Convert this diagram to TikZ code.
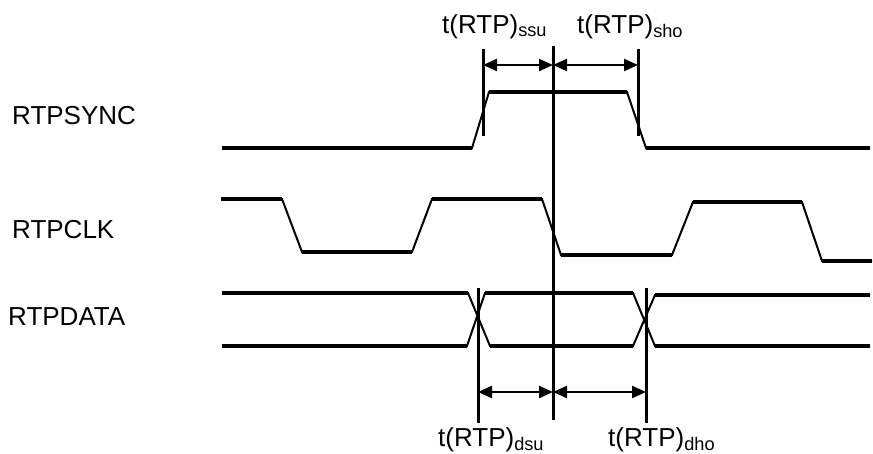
\documentclass[tikz,border=0pt]{standalone}
\usepackage{fontspec}
\setmainfont{Liberation Sans}
\usetikzlibrary{arrows.meta}
\begin{document}
\begin{tikzpicture}[x=1pt, y=-1pt]
        \tikzstyle{level} = [line width=3.4pt];
        \tikzstyle{edge} = [line width=2pt];
        \tikzstyle{marker} = [line width=3pt];
        \tikzstyle{span} = [{Triangle[length=14pt,width=12pt]}-{Triangle[length=14pt,width=12pt]}, line width=2.2pt];
        \tikzstyle{signame} = [inner sep=0pt, anchor=base west, font=\fontsize{26}{30}\selectfont];

        \useasboundingbox (0,0) rectangle (873,453);

        % signal names
        \node(syncname)[signame] at (12,124){RTPSYNC};
        \node(clkname)[signame] at (12,238){RTPCLK};
        \node(dataname)[signame] at (8,325){RTPDATA};

        % RTPSYNC
        \draw [edge] (222,148) -- (472,148) -- (489,92) -- (627,92) -- (646,148) -- (870,148);
        \draw [level] (222,148) -- (472,148) (489,92) -- (627,92) (646,148) -- (870,148);

        % RTPCLK
        \draw [edge] (221,199) -- (282,199) -- (302,252) -- (412,252) -- (432,199) -- (542,199)
            -- (561,255) -- (672,255) -- (693,202) -- (802,202) -- (822,261) -- (872,261);
        \draw [level] (221,199) -- (282,199) (302,252) -- (412,252) (432,199) -- (542,199)
            (561,255) -- (672,255) (693,202) -- (802,202) (822,261) -- (872,261);

        % RTPDATA
        \draw [edge] (222,293) -- (468,293) -- (490,346) -- (633,346) -- (655,295) -- (870,295);
        \draw [edge] (222,346) -- (467,346) -- (485,293) -- (633,293) -- (655,346) -- (870,346);
        \draw [level] (222,293) -- (468,293) (485,293) -- (633,293) (655,295) -- (870,295);
        \draw [level] (222,346) -- (467,346) (490,346) -- (633,346) (655,346) -- (870,346);

        % timing markers
        \draw [marker] (553,46) coordinate(reftop) -- (553,420) coordinate(refbot);
        \draw [marker] (483,49) coordinate(ssutop) -- (483,136);
        \draw [marker] (638,49) coordinate(shotop) -- (638,136);
        \draw [marker] (478,288) -- (478,423) coordinate(dsubot);
        \draw [marker] (646,288) -- (646,423) coordinate(dhobot);

        \coordinate (ssuL) at (483,65);
        \coordinate (sref) at (553,65);
        \coordinate (shoR) at (638,65);
        \coordinate (dsuL) at (478,392);
        \coordinate (dref) at (553,392);
        \coordinate (dhoR) at (646,392);

        \draw [span] (ssuL) -- (sref);
        \draw [span] (sref) -- (shoR);
        \draw [span] (dsuL) -- (dref);
        \draw [span] (dref) -- (dhoR);

        % timing names
        \node(ssuname)[signame] at (442,33){t(RTP)\textsubscript{ssu}};
        \node(shoname)[signame] at (577,33){t(RTP)\textsubscript{sho}};
        \node(dsuname)[signame] at (438,446){t(RTP)\textsubscript{dsu}};
        \node(dhoname)[signame] at (608,446){t(RTP)\textsubscript{dho}};
\end{tikzpicture}
\end{document}
